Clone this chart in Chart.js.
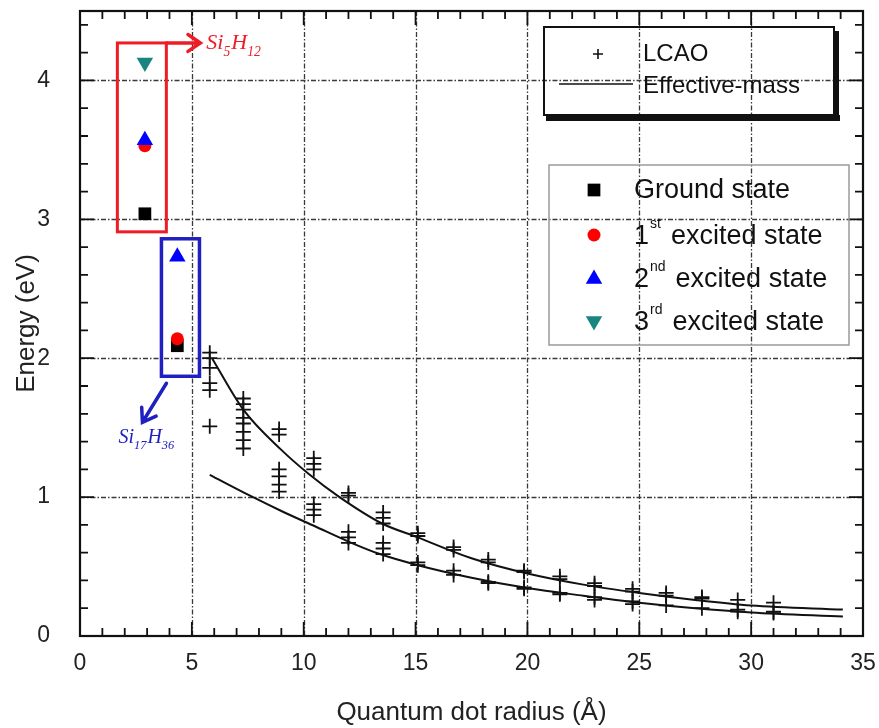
<!DOCTYPE html>
<html>
<head>
<meta charset="utf-8">
<script src="https://cdn.jsdelivr.net/npm/chart.js@4.4.1/dist/chart.umd.min.js"></script>
<style>
  html, body { margin: 0; padding: 0; background: #fff; }
  #wrap { width: 879px; height: 728px; }
</style>
</head>
<body>
<div id="wrap"><canvas id="chart" width="879" height="728"></canvas></div>
<script>
// LCAO results (radius in Å, energy in eV)
const lcaoRadius = [
  5.8, 5.8, 5.8, 5.8, 5.8, 5.8,
  7.3, 7.3, 7.3, 7.3, 7.3, 7.3, 7.3, 7.3,
  8.9, 8.9, 8.9, 8.9, 8.9, 8.9,
  10.45, 10.45, 10.45, 10.45, 10.45, 10.45,
  12.0, 12.0, 12.0, 12.0, 12.0,
  13.55, 13.55, 13.55, 13.55, 13.55, 13.55,
  15.1, 15.1, 15.1, 15.1,
  16.7, 16.7, 16.7, 16.7,
  18.25, 18.25, 18.25, 18.25,
  19.85, 19.85, 19.85, 19.85,
  21.45, 21.45, 21.45, 21.45,
  23.0, 23.0, 23.0, 23.0,
  24.7, 24.7, 24.7, 24.7,
  26.2, 26.2, 26.2,
  27.8, 27.8, 27.8,
  29.4, 29.4, 29.4,
  31.0, 31.0, 31.0
];
const lcaoEnergy = [
  2.04, 2.00, 1.93, 1.82, 1.77, 1.51,
  1.71, 1.67, 1.63, 1.57, 1.53, 1.47, 1.41, 1.35,
  1.49, 1.45, 1.20, 1.15, 1.09, 1.04,
  1.28, 1.24, 1.20, 0.95, 0.91, 0.87,
  1.03, 1.01, 0.75, 0.71, 0.67,
  0.89, 0.85, 0.81, 0.67, 0.63, 0.59,
  0.74, 0.72, 0.53, 0.51,
  0.64, 0.62, 0.47, 0.44,
  0.55, 0.53, 0.39, 0.38,
  0.47, 0.46, 0.35, 0.34,
  0.43, 0.41, 0.31, 0.30,
  0.38, 0.36, 0.28, 0.26,
  0.34, 0.32, 0.25, 0.23,
  0.31, 0.29, 0.22,
  0.28, 0.27, 0.20,
  0.26, 0.19, 0.175,
  0.24, 0.175, 0.165
];

// effective-mass curves
const emUpperRadius = [5.9, 7.3, 9.0, 10.2, 11.6, 13.5, 15.1, 17.5, 20, 22.5, 25, 27.5, 30, 34.1];
const emUpperEnergy = [2.0, 1.63, 1.34, 1.17, 1.0, 0.81, 0.71, 0.56, 0.45, 0.37, 0.31, 0.26, 0.22, 0.19];
const emLowerRadius = [5.8, 7.6, 9.0, 10.5, 12.0, 13.4, 15.1, 17.5, 20, 22.5, 25, 27.5, 30, 34.1];
const emLowerEnergy = [1.16, 1.01, 0.90, 0.79, 0.68, 0.59, 0.51, 0.42, 0.345, 0.29, 0.24, 0.20, 0.17, 0.14];

// Si5H12 and Si17H36 states
const clusterRadius = [2.9, 4.35];
const groundState = [3.04, 2.09];
const firstExcited = [3.53, 2.14];
const secondExcited = [3.57, 2.73];
const thirdExcited = [4.13];

const xTicks = [0, 5, 10, 15, 20, 25, 30, 35];
const yTicks = [0, 1, 2, 3, 4];

const FONT = '"Liberation Sans", Arial, sans-serif';
const RED = '#ee1c25';
const BLUE = '#2020c0';
const TEAL = '#1a8580';

const pts = (xs, ys) => ys.map((v, i) => ({ x: xs[i], y: v }));

// small shape helpers for the hand drawn legends
function marker(ctx, style, x, y, r, color) {
  ctx.save();
  ctx.fillStyle = color;
  ctx.strokeStyle = color;
  ctx.beginPath();
  if (style === 'rect') {
    const s = r * Math.SQRT1_2;
    ctx.rect(x - s, y - s, 2 * s, 2 * s);
    ctx.fill();
  } else if (style === 'circle') {
    ctx.arc(x, y, r, 0, Math.PI * 2);
    ctx.fill();
  } else if (style === 'up' || style === 'down') {
    const d = style === 'up' ? 1 : -1;
    ctx.moveTo(x, y - d * r);
    ctx.lineTo(x + 0.866 * r, y + d * r / 2);
    ctx.lineTo(x - 0.866 * r, y + d * r / 2);
    ctx.closePath();
    ctx.fill();
  } else if (style === 'cross') {
    ctx.lineWidth = 1.6;
    ctx.moveTo(x - r, y); ctx.lineTo(x + r, y);
    ctx.moveTo(x, y - r); ctx.lineTo(x, y + r);
    ctx.stroke();
  }
  ctx.restore();
}

function arrow(ctx, x1, y1, x2, y2, color) {
  const ang = Math.atan2(y2 - y1, x2 - x1);
  const h = 15;
  ctx.save();
  ctx.strokeStyle = color;
  ctx.lineWidth = 3.5;
  ctx.lineCap = 'round';
  ctx.beginPath();
  ctx.moveTo(x1, y1); ctx.lineTo(x2, y2);
  ctx.moveTo(x2 - h * Math.cos(ang - 0.6), y2 - h * Math.sin(ang - 0.6));
  ctx.lineTo(x2, y2);
  ctx.lineTo(x2 - h * Math.cos(ang + 0.6), y2 - h * Math.sin(ang + 0.6));
  ctx.stroke();
  ctx.restore();
}

// chemical formula with subscripts
function formula(ctx, parts, x, y, size, color) {
  ctx.save();
  ctx.fillStyle = color;
  ctx.textBaseline = 'alphabetic';
  let cx = x;
  parts.forEach(([t, sub]) => {
    const fs = sub ? size * 0.62 : size;
    ctx.font = 'italic ' + fs + 'px "Liberation Serif", "Times New Roman", serif';
    ctx.fillText(t, cx, sub ? y + size * 0.3 : y);
    cx += ctx.measureText(t).width + (sub ? 1 : 0);
  });
  ctx.restore();
}

function stateLabel(ctx, num, sup, rest, x, y) {
  ctx.save();
  ctx.fillStyle = '#111';
  ctx.textBaseline = 'middle';
  ctx.font = '27px ' + FONT;
  ctx.fillText(num, x, y);
  let cx = x + ctx.measureText(num).width + 1;
  ctx.font = '14px ' + FONT;
  ctx.fillText(sup, cx, y - 13);
  cx += ctx.measureText(sup).width + 10;
  ctx.font = '27px ' + FONT;
  ctx.fillText(rest, cx, y);
  ctx.restore();
}

const decor = {
  id: 'decor',
  beforeDatasetsDraw(chart) {
    const { ctx, chartArea: a, scales: { x, y } } = chart;
    ctx.save();
    ctx.strokeStyle = '#3a3a3a';
    ctx.lineWidth = 1.3;
    ctx.setLineDash([5, 2, 1.5, 2]);
    ctx.beginPath();
    xTicks.slice(1, -1).forEach(v => {
      const px = Math.round(x.getPixelForValue(v)) + 0.5;
      ctx.moveTo(px, a.top); ctx.lineTo(px, a.bottom);
    });
    yTicks.slice(1).forEach(v => {
      const py = Math.round(y.getPixelForValue(v)) + 0.5;
      ctx.moveTo(a.left, py); ctx.lineTo(a.right, py);
    });
    ctx.stroke();
    ctx.restore();
  },
  afterDatasetsDraw(chart) {
    const { ctx, chartArea: a, scales: { x, y } } = chart;
    ctx.save();
    // frame
    ctx.strokeStyle = '#111';
    ctx.lineWidth = 2.2;
    ctx.strokeRect(a.left, a.top, a.right - a.left, a.bottom - a.top);
    // inward ticks on all four sides
    ctx.lineWidth = 1.8;
    ctx.beginPath();
    for (let v = x.min + 1; v < x.max; v++) {
      const px = x.getPixelForValue(v);
      const len = v % 5 === 0 ? 14 : 8;
      ctx.moveTo(px, a.bottom); ctx.lineTo(px, a.bottom - len);
      ctx.moveTo(px, a.top); ctx.lineTo(px, a.top + len);
    }
    for (let k = 1; k * 0.2 < y.max - 1e-6; k++) {
      const py = y.getPixelForValue(k * 0.2);
      const len = k % 5 === 0 ? 14 : 8;
      ctx.moveTo(a.left, py); ctx.lineTo(a.left + len, py);
      ctx.moveTo(a.right, py); ctx.lineTo(a.right - len, py);
    }
    ctx.stroke();

    // Si5H12 box and label
    const rL = x.getPixelForValue(1.67), rR = x.getPixelForValue(3.86);
    const rT = y.getPixelForValue(4.27), rB = y.getPixelForValue(2.91);
    ctx.strokeStyle = RED;
    ctx.lineWidth = 3;
    ctx.strokeRect(rL, rT, rR - rL, rB - rT);
    arrow(ctx, rR, rT, rR + 34, rT, RED);
    formula(ctx, [['Si', 0], ['5', 1], ['H', 0], ['12', 1]], rR + 40, rT + 6, 22, RED);

    // Si17H36 box and label
    const bL = x.getPixelForValue(3.64), bR = x.getPixelForValue(5.34);
    const bT = y.getPixelForValue(2.86), bB = y.getPixelForValue(1.87);
    ctx.strokeStyle = BLUE;
    ctx.lineWidth = 3.5;
    ctx.strokeRect(bL, bT, bR - bL, bB - bT);
    arrow(ctx, bL + 5, bB + 7, bL - 19, bB + 46, BLUE);
    formula(ctx, [['Si', 0], ['17', 1], ['H', 0], ['36', 1]], bL - 43, bB + 67, 20, BLUE);

    // legend 1: LCAO / Effective-mass
    const l1 = { l: a.left + 464, t: 27, r: a.left + 754, b: 115 };
    ctx.strokeStyle = '#111';
    ctx.lineWidth = 2;
    ctx.strokeRect(l1.l, l1.t, l1.r - l1.l, l1.b - l1.t);
    ctx.fillStyle = '#111';
    ctx.fillRect(l1.l + 2, l1.b, l1.r - l1.l + 4, 6);
    ctx.fillRect(l1.r, l1.t + 4, 5, l1.b - l1.t);
    marker(ctx, 'cross', l1.l + 54, l1.t + 27, 5, '#111');
    ctx.beginPath();
    ctx.lineWidth = 1.6;
    ctx.moveTo(l1.l + 15, l1.t + 57); ctx.lineTo(l1.l + 89, l1.t + 57);
    ctx.stroke();
    ctx.fillStyle = '#111';
    ctx.font = '24px ' + FONT;
    ctx.textBaseline = 'middle';
    ctx.fillText('LCAO', l1.l + 99, l1.t + 27);
    ctx.fillText('Effective-mass', l1.l + 99, l1.t + 59);

    // legend 2: states
    const l2 = { l: a.left + 469, t: 165, r: a.left + 769, b: 345 };
    ctx.strokeStyle = '#9a9a9a';
    ctx.lineWidth = 1.5;
    ctx.strokeRect(l2.l, l2.t, l2.r - l2.l, l2.b - l2.t);
    const mx = l2.l + 45, tx = l2.l + 85;
    marker(ctx, 'rect', mx, 190, 9, '#000');
    marker(ctx, 'circle', mx, 235, 6.5, '#ff0000');
    marker(ctx, 'up', mx, 279, 9.5, '#0000ff');
    marker(ctx, 'down', mx, 321, 9.5, TEAL);
    ctx.fillStyle = '#111';
    ctx.font = '27px ' + FONT;
    ctx.fillText('Ground state', tx, 191);
    stateLabel(ctx, '1', 'st', 'excited state', tx, 237);
    stateLabel(ctx, '2', 'nd', 'excited state', tx, 280);
    stateLabel(ctx, '3', 'rd', 'excited state', tx, 323);
    ctx.restore();
  }
};

new Chart(document.getElementById('chart'), {
  type: 'scatter',
  data: {
    datasets: [
      {
        label: 'Effective-mass (upper)',
        type: 'line',
        data: pts(emUpperRadius, emUpperEnergy),
        borderColor: '#111', borderWidth: 2, pointRadius: 0,
        cubicInterpolationMode: 'monotone', fill: false, order: 7
      },
      {
        label: 'Effective-mass (lower)',
        type: 'line',
        data: pts(emLowerRadius, emLowerEnergy),
        borderColor: '#111', borderWidth: 2, pointRadius: 0,
        cubicInterpolationMode: 'monotone', fill: false, order: 7
      },
      {
        label: 'LCAO',
        data: pts(lcaoRadius, lcaoEnergy),
        pointStyle: 'cross', pointRadius: 7.5, borderColor: '#111', borderWidth: 1.8, order: 6
      },
      {
        label: 'Ground state',
        data: pts(clusterRadius, groundState),
        pointStyle: 'rect', pointRadius: 9, backgroundColor: '#000', borderColor: '#000', borderWidth: 0, order: 4
      },
      {
        label: '1st excited state',
        data: pts(clusterRadius, firstExcited),
        pointStyle: 'circle', pointRadius: 6.5, backgroundColor: '#ff0000', borderColor: '#ff0000', borderWidth: 0, order: 3
      },
      {
        label: '2nd excited state',
        data: pts(clusterRadius, secondExcited),
        pointStyle: 'triangle', pointRadius: 9.5, backgroundColor: '#0000ff', borderColor: '#0000ff', borderWidth: 0, order: 2
      },
      {
        label: '3rd excited state',
        data: pts(clusterRadius, thirdExcited),
        pointStyle: 'triangle', rotation: 180, pointRadius: 9.5, backgroundColor: TEAL, borderColor: TEAL, borderWidth: 0, order: 1
      }
    ]
  },
  options: {
    responsive: false,
    animation: false,
    devicePixelRatio: 1,
    layout: { padding: { top: 11, right: 16, left: 0, bottom: 0 } },
    plugins: { legend: { display: false }, tooltip: { enabled: false } },
    scales: {
      x: {
        type: 'linear', min: 0, max: 35,
        afterFit: s => { s.height = 92; s.paddingLeft = 0; s.paddingRight = 0; },
        afterBuildTicks: s => { s.ticks = xTicks.map(v => ({ value: v })); },
        grid: { display: false, drawTicks: false },
        border: { display: false },
        ticks: { padding: 14, color: '#222', font: { family: FONT, size: 23 } },
        title: { display: true, text: 'Quantum dot radius (Å)', color: '#222', padding: { top: 0, bottom: 0 }, font: { family: FONT, size: 26 } }
      },
      y: {
        type: 'linear', min: 0, max: 4.5,
        afterFit: s => { s.width = 80; s.paddingTop = 0; s.paddingBottom = 0; },
        afterBuildTicks: s => { s.ticks = yTicks.map(v => ({ value: v })); },
        grid: { display: false, drawTicks: false },
        border: { display: false },
        ticks: { padding: 30, color: '#222', font: { family: FONT, size: 23 } },
        title: { display: true, text: 'Energy (eV)', color: '#222', padding: { top: 11, bottom: 0 }, font: { family: FONT, size: 26 } }
      }
    }
  },
  plugins: [decor]
});
</script>
</body>
</html>
